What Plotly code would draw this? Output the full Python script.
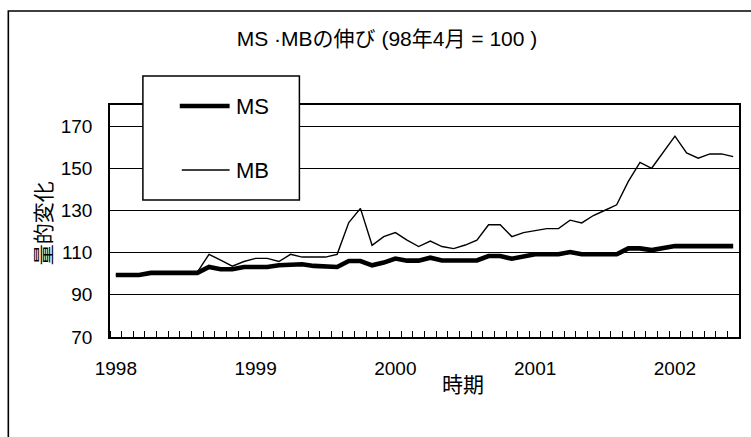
import plotly.graph_objects as go

# ---- data ----
months = [f"{1998 + (3 + k) // 12}-{(3 + k) % 12 + 1:02d}" for k in range(54)]
year_labels = ["1998", "1999", "2000", "2001", "2002"]
year_positions = [0, 12, 24, 36, 48]

ms = [99.4, 99.4, 99.4, 100.4, 100.4, 100.4, 100.4, 100.4,
      103.2, 102.1, 102.1, 103.2, 103.2, 103.2, 104.0, 104.5, 104.5, 103.7, 103.2, 103.2,
      106.0, 106.0, 104.0, 105.3, 107.2, 106.2, 106.2, 107.6, 106.3, 106.3, 106.3, 106.3,
      108.4, 108.4, 107.1, 108.4, 109.2, 109.2, 109.2, 110.3, 109.2, 109.2, 109.2, 109.2,
      112.0, 112.0, 111.2, 112.0, 113.1, 113.1, 113.1, 113.1, 113.1, 113.1]

mb = [99.4, 99.4, 99.4, 100.4, 100.4, 100.4, 100.4, 100.8,
      109.2, 106.5, 103.6, 105.8, 107.3, 107.3, 105.8, 109.2, 107.9, 107.9, 107.9, 109.2,
      124.3, 131.0, 113.5, 117.6, 119.5, 115.9, 112.9, 115.5, 112.9, 111.9, 113.6, 115.9,
      123.2, 123.2, 117.6, 119.5, 120.6, 121.4, 121.4, 125.4, 124.1, 127.6, 130.1, 132.7,
      143.8, 152.8, 150.0, 157.6, 165.2, 157.3, 154.8, 156.8, 156.8, 155.5]

title_text = "MS ·MBの伸び (98年4月 = 100 )"
y_title = "量的変化"
x_title = "時期"

LAT = "Liberation Sans, Arial, sans-serif"
MIX = "Liberation Sans, Noto Sans CJK JP, sans-serif"
CJK = "Noto Sans CJK JP, sans-serif"

x_idx = list(range(len(months)))

fig = go.Figure()
fig.add_trace(go.Scatter(x=x_idx, y=mb, mode="lines", name="MB", customdata=months,
                         line=dict(color="black", width=1.4)))
fig.add_trace(go.Scatter(x=x_idx, y=ms, mode="lines", name="MS", customdata=months,
                         line=dict(color="black", width=4.6)))

W, H = 751, 437
L, R, T, B = 110, 10, 105, 100
pw, ph = W - L - R, H - T - B


def px(x):
    return (x - L) / pw


def py(y):
    return (H - B - y) / ph


shapes = [
    # outer chart frame
    dict(type="rect", xref="paper", yref="paper", x0=px(8), x1=px(780), y0=py(470), y1=py(11),
         line=dict(color="black", width=1.6), fillcolor="rgba(0,0,0,0)", layer="above"),
    # legend box
    dict(type="rect", xref="paper", yref="paper", x0=px(143), x1=px(300), y0=py(200), y1=py(76),
         line=dict(color="black", width=1.5), fillcolor="white", layer="above"),
    dict(type="line", xref="paper", yref="paper", x0=px(180), x1=px(230), y0=py(106), y1=py(106),
         line=dict(color="black", width=4.6), layer="above"),
    dict(type="line", xref="paper", yref="paper", x0=px(182), x1=px(230), y0=py(170), y1=py(170),
         line=dict(color="black", width=1.4), layer="above"),
]

annotations = [
    dict(text="MS", xref="paper", yref="paper", x=px(234), y=py(106), xanchor="left",
         yanchor="middle", showarrow=False, font=dict(family=LAT, size=22, color="black")),
    dict(text="MB", xref="paper", yref="paper", x=px(234), y=py(170), xanchor="left",
         yanchor="middle", showarrow=False, font=dict(family=LAT, size=22, color="black")),
    dict(text=y_title, xref="paper", yref="paper", x=px(42), y=py(223), xanchor="center",
         yanchor="middle", textangle=-90, showarrow=False,
         font=dict(family=CJK, size=21, color="black")),
    dict(text=x_title, xref="paper", yref="paper", x=px(464), y=py(383), xanchor="center",
         yanchor="middle", showarrow=False,
         font=dict(family=CJK, size=21, color="black")),
]

fig.update_layout(
    width=W, height=H,
    margin=dict(l=L, r=R, t=T, b=B),
    paper_bgcolor="white", plot_bgcolor="white",
    showlegend=False,
    title=dict(text=title_text, x=387 / W, xanchor="center", y=1 - 39 / H, yanchor="middle",
               xref="container", yref="container",
               font=dict(family=MIX, size=21, color="black")),
    shapes=shapes,
    annotations=annotations,
)

fig.update_xaxes(
    range=[-0.5, len(months) - 0.5],
    tickmode="array", tickvals=year_positions, ticktext=year_labels,
    ticks="", showgrid=False, zeroline=False,
    showline=True, linecolor="black", linewidth=1.6, mirror=True,
    ticklabelstandoff=13,
    tickfont=dict(family=LAT, size=19, color="black"),
    minor=dict(tick0=-0.5, dtick=1, ticks="inside", ticklen=6, tickcolor="black",
               tickwidth=1.2, showgrid=False),
)
fig.update_yaxes(
    range=[70, 180], tick0=70, dtick=20, tickmode="linear",
    ticks="", showgrid=True, gridcolor="black", gridwidth=1.4, zeroline=False,
    showline=True, linecolor="black", linewidth=1.6, mirror=True,
    ticklabelstandoff=12,
    tickfont=dict(family=LAT, size=19, color="black"),
)

fig.write_html("out.html")
